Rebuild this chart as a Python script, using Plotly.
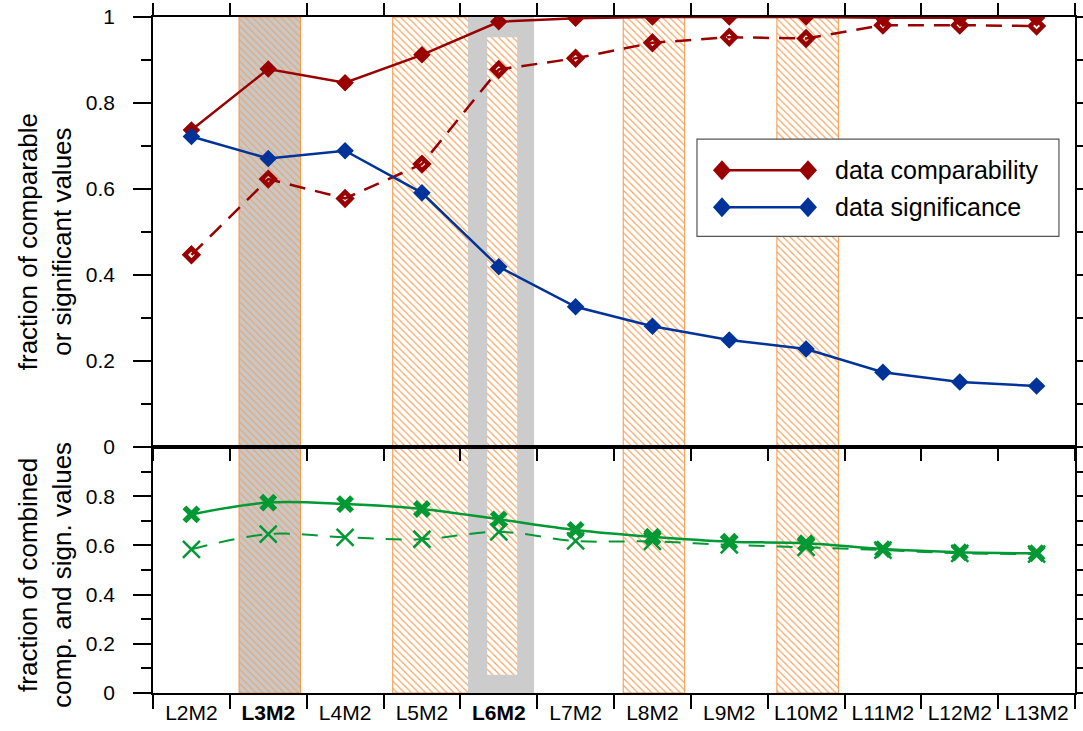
import plotly.graph_objects as go

# ---- data -------------------------------------------------------------
categories = ["L2M2", "L3M2", "L4M2", "L5M2", "L6M2", "L7M2",
              "L8M2", "L9M2", "L10M2", "L11M2", "L12M2", "L13M2"]
tick_labels = ["L2M2", "<b>L3M2</b>", "L4M2", "L5M2", "<b>L6M2</b>", "L7M2",
               "L8M2", "L9M2", "L10M2", "L11M2", "L12M2", "L13M2"]

# upper panel: fraction of comparable / significant values
comparability = [0.737, 0.879, 0.847, 0.912, 0.989, 0.997,
                 1.000, 1.000, 1.000, 0.998, 0.998, 0.998]
comparability_open = [0.447, 0.623, 0.578, 0.658, 0.878, 0.904,
                      0.940, 0.953, 0.950, 0.981, 0.981, 0.979]
significance = [0.722, 0.671, 0.689, 0.591, 0.419, 0.326,
                 0.281, 0.249, 0.228, 0.174, 0.151, 0.142]

# lower panel: fraction of combined comparable and significant values
combined = [0.726, 0.774, 0.768, 0.748, 0.706, 0.663,
            0.635, 0.615, 0.609, 0.585, 0.572, 0.568]
combined_open = [0.584, 0.646, 0.633, 0.625, 0.655, 0.618,
                 0.616, 0.602, 0.592, 0.581, 0.568, 0.565]

# highlighted columns
gray_bands = [("L3M2", "L3M2")]
hatched_bands = [("L5M2", "L6M2"), ("L8M2", "L8M2"), ("L10M2", "L10M2")]
framed_band = "L6M2"

# ---- style ------------------------------------------------------------
RED = "#990000"
BLUE = "#003399"
GREEN = "#009933"
ORANGE = "#F79646"
GRAY = "#CCCCCC"
FONT = "Liberation Sans, Arial, sans-serif"

BAND_LEFT, BAND_RIGHT = -0.38, 0.42          # band edges relative to category centre
FRAME_OUT = (-0.40, 0.46)                    # gray frame around the framed column
FRAME_IN = (-0.15, 0.24)
FRAME_IN_Y = (0.027, 0.970)                  # inner (hatched) part, fraction of full height

SPLIT = 246 / 676                            # lower panel share of total height

idx = {c: i for i, c in enumerate(categories)}

fig = go.Figure()


def rect_trace(x0, x1, y0, y1, **kw):
    return go.Scatter(x=[x0, x1, x1, x0, x0], y=[y0, y0, y1, y1, y0],
                      mode="lines", fill="toself", hoverinfo="skip",
                      showlegend=False, xaxis="x", yaxis="y", **kw)


hatch = dict(shape="\\", fgcolor=ORANGE, fgopacity=0.9, size=5, solidity=0.22)

# bands (full-height background layer)
for a, b in gray_bands:
    fig.add_trace(rect_trace(idx[a] + BAND_LEFT, idx[b] + BAND_RIGHT, 0, 1,
                             fillcolor="#C8C8C8",
                             fillpattern=dict(hatch, bgcolor="#C8C8C8", fgopacity=0.7),
                             line=dict(color=ORANGE, width=1)))
for a, b in hatched_bands:
    fig.add_trace(rect_trace(idx[a] + BAND_LEFT, idx[b] + BAND_RIGHT, 0, 1,
                             fillcolor="rgba(255,255,255,0)",
                             fillpattern=dict(hatch, bgcolor="rgba(255,255,255,0)"),
                             line=dict(color=ORANGE, width=1)))

fi = idx[framed_band]
fig.add_trace(rect_trace(fi + FRAME_OUT[0], fi + FRAME_OUT[1], 0, 1,
                         fillcolor=GRAY, line=dict(width=0)))
fig.add_trace(rect_trace(fi + FRAME_IN[0], fi + FRAME_IN[1], FRAME_IN_Y[0], FRAME_IN_Y[1],
                         fillcolor="white",
                         fillpattern=dict(hatch, bgcolor="white"),
                         line=dict(width=0)))

# upper panel
fig.add_trace(go.Scatter(
    x=categories, y=comparability_open, xaxis="x2", yaxis="y2", mode="lines+markers",
    line=dict(color=RED, width=2.5, dash="16px,10px"),
    marker=dict(symbol="diamond-open", size=10, color=RED, line=dict(color=RED, width=4.5)),
    showlegend=False))
fig.add_trace(go.Scatter(
    x=categories, y=comparability, xaxis="x2", yaxis="y2", mode="lines+markers",
    line=dict(color=RED, width=2.5),
    marker=dict(symbol="diamond", size=13.5, color=RED),
    name="data comparability", showlegend=False))
fig.add_trace(go.Scatter(
    x=categories, y=significance, xaxis="x2", yaxis="y2", mode="lines+markers",
    line=dict(color=BLUE, width=2.5),
    marker=dict(symbol="diamond", size=13.5, color=BLUE),
    name="data significance", showlegend=False))

# lower panel
fig.add_trace(go.Scatter(
    x=categories, y=combined_open, xaxis="x3", yaxis="y3", mode="lines+markers",
    line=dict(color=GREEN, width=2, dash="16px,12px", shape="spline"),
    marker=dict(symbol="x-thin", size=17, color=GREEN, line=dict(color=GREEN, width=2.5)),
    showlegend=False))
fig.add_trace(go.Scatter(
    x=categories, y=combined, xaxis="x3", yaxis="y3", mode="lines+markers",
    line=dict(color=GREEN, width=2.5, shape="spline"),
    marker=dict(symbol="x-thin", size=14, color=GREEN, line=dict(color=GREEN, width=5.5)),
    showlegend=False))

axis_common = dict(showline=True, linecolor="black", linewidth=1.5,
                   ticks="outside", tickcolor="black", tickwidth=1.5,
                   showgrid=False, zeroline=False, automargin=False,
                   tickfont=dict(family=FONT, size=21, color="black"))
minor_ticks = dict(tickmode="linear", tick0=0, dtick=0.1, ticklen=10,
                   ticks="outside", tickcolor="black", tickwidth=1.5)

fig.update_layout(
    width=1083, height=731,
    margin=dict(l=153, r=8, t=17, b=38, autoexpand=False),
    paper_bgcolor="white", plot_bgcolor="rgba(0,0,0,0)",
    font=dict(family=FONT, color="black"),
    xaxis=dict(domain=[0, 1], range=[-0.5, 11.5], visible=False,
               fixedrange=True, automargin=False),
    yaxis=dict(domain=[0, 1], range=[0, 1], visible=False,
               fixedrange=True, automargin=False),
    xaxis2=dict(axis_common, domain=[0, 1], anchor="y2", type="category",
                categoryorder="array", categoryarray=categories,
                range=[-0.5, 11.5], tickson="boundaries", ticklen=12,
                showticklabels=False, mirror="ticks"),
    yaxis2=dict(axis_common, domain=[SPLIT, 1], anchor="x2", range=[0, 1],
                tick0=0, dtick=0.2, ticklen=18, mirror="ticks",
                ticklabelstandoff=14, minor=minor_ticks),
    xaxis3=dict(axis_common, domain=[0, 1], anchor="y3", type="category",
                categoryorder="array", categoryarray=categories,
                range=[-0.5, 11.5], tickson="boundaries", ticklen=14,
                tickmode="array", tickvals=categories, ticktext=tick_labels,
                mirror=True),
    yaxis3=dict(axis_common, domain=[0, SPLIT], anchor="x3", range=[0, 1],
                tickmode="array", tickvals=[0, 0.2, 0.4, 0.6, 0.8],
                ticktext=["0", "0.2", "0.4", "0.6", "0.8"],
                ticklen=18, mirror="ticks", ticklabelstandoff=14,
                minor=minor_ticks),
)

# axis titles
fig.add_annotation(xref="paper", yref="paper", x=-0.117, y=0.667,
                   text="fraction of comparable<br>or significant values",
                   textangle=-90, showarrow=False, xanchor="center", yanchor="middle",
                   font=dict(family=FONT, size=26, color="black"))
fig.add_annotation(xref="paper", yref="paper", x=-0.117, y=0.175,
                   text="fraction of combined<br>comp. and sign. values",
                   textangle=-90, showarrow=False, xanchor="center", yanchor="middle",
                   font=dict(family=FONT, size=26, color="black"))

# legend box
fig.add_shape(type="rect", xref="paper", yref="paper", x0=0.590, x1=0.9826,
              y0=0.6756, y1=0.8193, fillcolor="white",
              line=dict(color="#555555", width=1.2), layer="above")
DIAMOND = "M -9,0 L 0,10 L 9,0 L 0,-10 Z"
for ypos, color, label in [(0.7733, RED, "data comparability"),
                           (0.7185, BLUE, "data significance")]:
    fig.add_shape(type="line", xref="paper", yref="paper", x0=0.6171, x1=0.7104,
                  y0=ypos, y1=ypos, line=dict(color=color, width=2.5), layer="above")
    for xpos in (0.6171, 0.7104):
        fig.add_shape(type="path", xref="paper", yref="paper",
                      xsizemode="pixel", ysizemode="pixel",
                      xanchor=xpos, yanchor=ypos, path=DIAMOND,
                      fillcolor=color, line=dict(width=0), layer="above")
    fig.add_annotation(xref="paper", yref="paper", x=0.7375, y=ypos, text=label,
                       showarrow=False, xanchor="left", yanchor="middle",
                       font=dict(family=FONT, size=25, color="black"))

fig.write_html("out.html")
